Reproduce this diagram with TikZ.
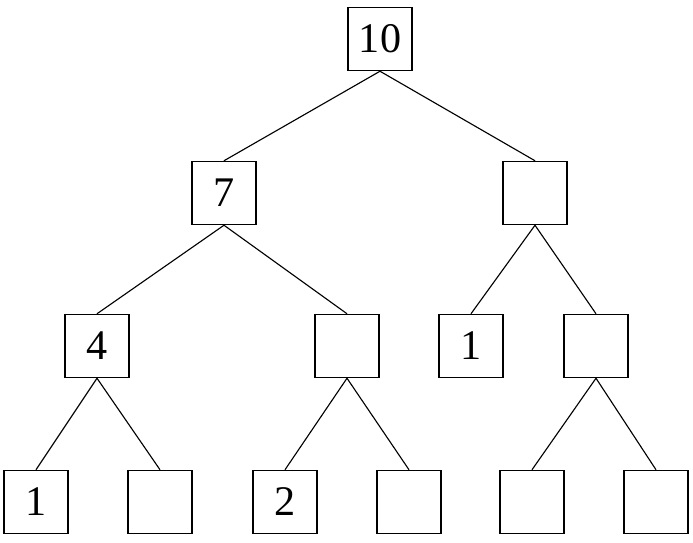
\documentclass[tikz,border=0pt]{standalone}
\usepackage{fontspec}
\setmainfont{Liberation Serif}
\begin{document}
\begin{tikzpicture}[
  x=0.025cm,y=-0.025cm,
  line width=0.8pt,
  cell/.style={draw,line width=0.9pt,minimum width=1.6cm,minimum height=1.58cm,inner sep=0pt,font=\fontsize{30}{34}\selectfont},
  edge/.style={line width=0.8pt}
]
  \useasboundingbox (0,0) rectangle (693,543);

  % level 0 and 1
  \node[cell] (root) at (380,39) {10};
  \node[cell] (n7) at (224,193) {7};
  \node[cell] (r) at (535,193) {};

  % level 2
  \node[cell] (n4) at (97,346) {4};
  \node[cell] (m) at (347,346) {};
  \node[cell] (n1) at (471,346) {1};
  \node[cell] (s) at (596,346) {};

  % leaves
  \node[cell] (b1) at (36,502) {1};
  \node[cell] (b2) at (160,502) {};
  \node[cell] (b3) at (285,502) {2};
  \node[cell] (b4) at (409,502) {};
  \node[cell] (b5) at (532,502) {};
  \node[cell] (b6) at (656,502) {};

  \draw[edge] (root.south) -- (n7.north);
  \draw[edge] (root.south) -- (r.north);
  \draw[edge] (n7.south) -- (n4.north);
  \draw[edge] (n7.south) -- (m.north);
  \draw[edge] (r.south) -- (n1.north);
  \draw[edge] (r.south) -- (s.north);
  \draw[edge] (n4.south) -- (b1.north);
  \draw[edge] (n4.south) -- (b2.north);
  \draw[edge] (m.south) -- (b3.north);
  \draw[edge] (m.south) -- (b4.north);
  \draw[edge] (s.south) -- (b5.north);
  \draw[edge] (s.south) -- (b6.north);
\end{tikzpicture}
\end{document}
